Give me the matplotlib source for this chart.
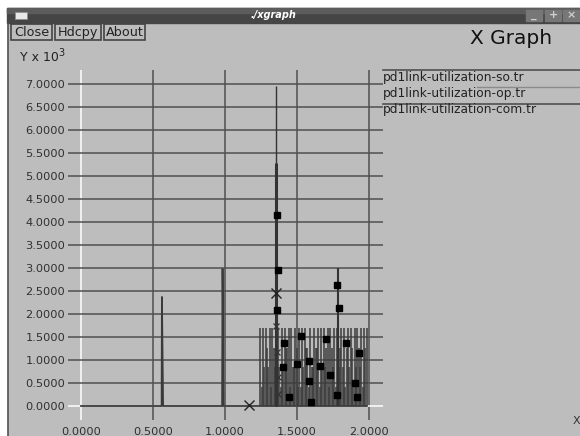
import numpy as np
import matplotlib
matplotlib.use("Agg")
import matplotlib.pyplot as plt
from matplotlib.patches import Rectangle
from matplotlib.lines import Line2D

plt.rcParams['font.family'] = ['DejaVu Sans']

W, H = 580, 436

# --- data (x in s, y in thousands) ---
# pd1link-utilization-so.tr : isolated spikes before the busy period
so_t = [0.000, 0.560, 0.562, 0.564, 0.566, 0.568, 0.570, 0.980, 0.983, 0.985, 0.987, 0.989, 0.991, 1.985]
so_v = [0.00, 0.00, 2.37, 1.76, 1.18, 0.60, 0.00, 0.00, 2.98, 2.20, 0.74, 0.00, 0.00, 0.00]

# busy period 1.245 .. 1.985 : one pulse per sample
burst_start, burst_end = 1.245, 1.985
burst_h = [1.70, 0.42, 1.70, 0.85, 1.70, 1.27, 0.85, 1.70, 0.42, 1.70,
           1.27, 0.85, 1.27, 1.70, 0.85, 0.42, 1.70, 0.85, 1.70, 1.27,
           1.27, 1.70, 0.42, 1.70, 0.85, 0.85, 1.70, 1.27, 0.42, 1.70,
           0.42, 1.70, 0.85, 1.70, 1.27, 1.27, 0.42, 1.70, 0.85, 0.85,
           1.70, 1.27, 1.27, 1.70, 0.42, 1.70, 0.85, 1.70, 0.85, 1.27,
           1.70, 0.42, 1.70, 1.27, 0.85, 1.70, 0.42, 1.70, 0.85, 1.27,
           1.70, 0.85, 1.70, 0.42, 1.27, 1.70, 0.85, 1.70, 1.27, 0.42,
           1.70, 0.85, 1.70, 1.27, 0.85, 1.70, 0.42, 1.70, 1.27, 1.70]

# tall spikes inside the busy period
peak_t = [1.352, 1.356, 1.785]
peak_v = [6.95, 5.29, 3.00]

# pd1link-utilization-op.tr (square markers)
op_t = [1.364, 1.368, 1.359, 1.776, 1.790, 1.528, 1.410, 1.700, 1.840, 1.930,
        1.405, 1.500, 1.585, 1.660, 1.730, 1.585, 1.900, 1.447, 1.595, 1.776, 1.920]
op_v = [4.16, 2.96, 2.09, 2.64, 2.13, 1.53, 1.37, 1.45, 1.38, 1.15,
        0.84, 0.92, 0.98, 0.86, 0.67, 0.55, 0.51, 0.20, 0.09, 0.25, 0.20]

# pd1link-utilization-com.tr (x markers)
com_t = [1.169, 1.354, 1.357, 1.362, 1.365, 1.368]
com_v = [0.03, 2.45, 1.73, 1.18, 0.62, 0.27]

legend_labels = ['pd1link-utilization-so.tr',
                 'pd1link-utilization-op.tr',
                 'pd1link-utilization-com.tr']
xticks = [0.0, 0.5, 1.0, 1.5, 2.0]
yticks = [0.0, 0.5, 1.0, 1.5, 2.0, 2.5, 3.0, 3.5, 4.0, 4.5, 5.0, 5.5, 6.0, 6.5, 7.0]


def fx(px):
    return px / W


def fy(py):
    return 1 - py / H


fig = plt.figure(figsize=(W / 100, H / 100), dpi=100, facecolor='#bdbdbd')

# --- window chrome ---
fig.patches.append(Rectangle((0, fy(8)), 1, 8 / H, transform=fig.transFigure, color='white', zorder=0))
fig.patches.append(Rectangle((0, 0), fx(7), 1, transform=fig.transFigure, color='white', zorder=0))
fig.patches.append(Rectangle((fx(7), fy(23)), 1, 15 / H, transform=fig.transFigure, color='#454545', zorder=1))
fig.patches.append(Rectangle((fx(7), fy(13)), 1, 5 / H, transform=fig.transFigure, color='#5c5c5c', zorder=1))
fig.lines.append(Line2D([fx(8), fx(8)], [0, fy(23)], transform=fig.transFigure, color='#505050', lw=1.2))
fig.patches.append(Rectangle((fx(15), fy(19)), 12 / W, 7 / H, transform=fig.transFigure,
                             facecolor='#e8e8e8', edgecolor='#909090', lw=0.6, zorder=2))
fig.text(fx(273), fy(15.5), './xgraph', color='white', fontsize=7, fontweight='bold',
         style='italic', ha='center', va='center')
for x0, sym in [(526, '_'), (545, '+'), (563, '×')]:
    fig.patches.append(Rectangle((fx(x0), fy(21)), 16 / W, 11 / H, transform=fig.transFigure,
                                 color='#777777', zorder=2))
    fig.text(fx(x0 + 8), fy(15.5), sym, color='#d0d0d0', fontsize=8, fontweight='bold',
             ha='center', va='center')

# buttons
for label, x0, x1 in [('Close', 11, 52), ('Hdcpy', 55, 101), ('About', 104, 145)]:
    fig.patches.append(Rectangle((fx(x0), fy(40.5)), (x1 - x0) / W, 16.5 / H, transform=fig.transFigure,
                                 facecolor='none', edgecolor='#444444', lw=1.2, zorder=2))
    fig.text(fx((x0 + x1) / 2), fy(32.5), label, color='#222222', fontsize=9.2,
             ha='center', va='center')

fig.text(fx(20), fy(57.5), 'Y x 10', color='#222222', fontsize=9, ha='left', va='center')
fig.text(fx(58), fy(52.5), '3', color='#222222', fontsize=7, ha='left', va='center')
fig.text(fx(470), fy(39), 'X Graph', color='#111111', fontsize=14.5, ha='left', va='center')
fig.text(fx(573), fy(421), 'X', color='#333333', fontsize=8, ha='left', va='center')

# --- plot area ---
ax = fig.add_axes([fx(68), fy(420), (383 - 68) / W, (420 - 70) / H])
ax.set_facecolor('none')
for s in ax.spines.values():
    s.set_visible(False)
ax.set_xlim((68 - 81) / 144, (383 - 81) / 144)
ax.set_ylim((406 - 420) / 46.0, (406 - 70) / 46.0)

for v in xticks:
    ax.axvline(v, color='white' if v == 0 else '#505050', lw=1.1, zorder=1)
for v in yticks:
    ax.axhline(v, color='white' if v == 0 else '#505050', lw=1.1, zorder=1)

ax.set_xticks(xticks)
ax.set_xticklabels(['%.4f' % v for v in xticks])
ax.set_yticks(yticks)
ax.set_yticklabels(['%.4f' % v for v in yticks])
ax.tick_params(length=0, labelsize=8.2, labelcolor='#303030')
ax.tick_params(axis='x', pad=5)
ax.tick_params(axis='y', pad=2)

# so
ax.plot(so_t, so_v, color='#3a3a3a', lw=1.3, zorder=3)
burst_t = np.linspace(burst_start, burst_end, len(burst_h))
ax.vlines(burst_t, 0, burst_h, color='#3c3c3c', lw=1.1, zorder=3)
ax.vlines(peak_t, 0, peak_v, color='#333333', lw=[1.0, 2.2, 1.5], zorder=3)

# op
ax.plot(op_t, op_v, ls='none', marker='s', ms=5, color='black', zorder=4)

# com: first two marks drawn larger, the rest along the spike smaller
ax.plot(com_t[:2], com_v[:2], ls='none', marker='x', ms=7, mew=1.0, color='#222222', zorder=4)
ax.plot(com_t[2:], com_v[2:], ls='none', marker='x', ms=4.5, mew=0.9, color='#333333', zorder=4)

# legend drawn like xgraph: a line above each label
for i, lab in enumerate(legend_labels):
    fig.text(fx(383), fy(77 + i * 16.5), lab, color='#222222', fontsize=8.8, ha='left', va='center')
fig.lines.append(Line2D([fx(383), 1], [fy(70.5), fy(70.5)], transform=fig.transFigure, color='#505050', lw=1.2))
fig.lines.append(Line2D([fx(477), 1], [fy(87), fy(87)], transform=fig.transFigure, color='#8a8a8a', lw=1.0))
fig.lines.append(Line2D([fx(383), 1], [fy(104), fy(104)], transform=fig.transFigure, color='#505050', lw=1.2))

fig.savefig('out.png', dpi=100, facecolor=fig.get_facecolor())
